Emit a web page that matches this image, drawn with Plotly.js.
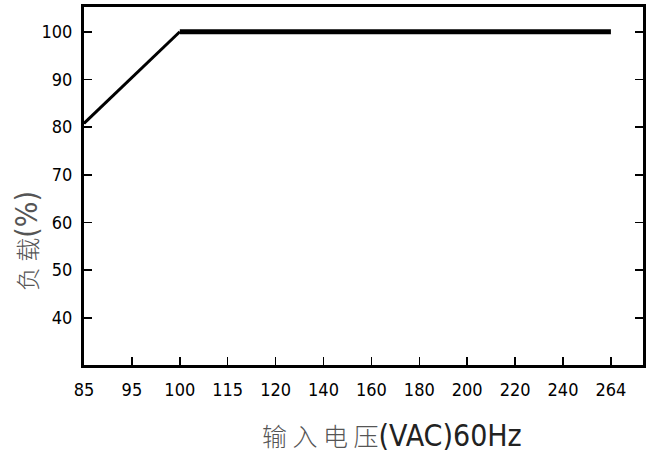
<!DOCTYPE html>
<html>
<head>
<meta charset="utf-8">
<script src="https://cdn.plot.ly/plotly-3.0.1.min.js"></script>
<style>html,body{margin:0;padding:0;background:#fff;}#chart{width:652px;height:465px;}</style>
</head>
<body>
<div id="chart"></div>
<script>
// Tick categories on the (evenly spaced) input-voltage axis
const voltageTicks = ["85", "95", "100", "115", "120", "140", "160", "180", "200", "220", "240", "264"];
// Derating curve: rising section
const riseVoltage = ["85", "100"];
const riseLoad = [80.8, 100];
// Derating curve: flat full-load section
const flatVoltage = ["100", "264"];
const flatLoad = [100, 100];
const loadTicks = [40, 50, 60, 70, 80, 90, 100];

const narrow = '"DejaVu Sans Condensed", "Liberation Sans Narrow", "Liberation Sans", sans-serif';

const traces = [
  {x: riseVoltage, y: riseLoad, type: 'scatter', mode: 'lines',
   line: {color: '#000', width: 3}, hoverinfo: 'skip', showlegend: false},
  {x: flatVoltage, y: flatLoad, type: 'scatter', mode: 'lines',
   line: {color: '#000', width: 5}, hoverinfo: 'skip', showlegend: false}
];

const layout = {
  width: 652, height: 465,
  margin: {l: 84, r: 9, t: 7, b: 100, pad: 0},
  paper_bgcolor: '#fff', plot_bgcolor: '#fff',
  font: {family: narrow, color: '#000', size: 18},
  xaxis: {
    type: 'category', categoryorder: 'array', categoryarray: voltageTicks,
    tickvals: voltageTicks, ticktext: voltageTicks,
    range: [0, 11.67],
    showgrid: false, zeroline: false,
    showline: true, linecolor: '#000', linewidth: 3, mirror: true,
    ticks: 'inside', ticklen: 8, tickwidth: 1.5, tickcolor: '#000',
    tickfont: {family: narrow, size: 18, color: '#000'},
    ticklabelstandoff: 6
  },
  yaxis: {
    range: [30.1, 105.2],
    tickvals: loadTicks,
    showgrid: false, zeroline: false,
    showline: true, linecolor: '#000', linewidth: 3, mirror: 'ticks',
    ticks: 'inside', ticklen: 8, tickwidth: 1.5, tickcolor: '#000',
    tickfont: {family: narrow, size: 18, color: '#000'},
    ticklabelstandoff: 5
  },
  annotations: [
    {xref: 'paper', yref: 'paper', x: 0.551, y: -0.195, xanchor: 'center', yanchor: 'middle',
     showarrow: false,
     text: '<span style="font-family:\'Noto Sans CJK SC\';font-size:25px;font-weight:300;fill:#555">输 入 电 压</span>(VAC)60Hz',
     font: {family: narrow, size: 30, color: '#222'}},
    {xref: 'paper', yref: 'paper', x: -0.104, y: 0.346, xanchor: 'center', yanchor: 'middle',
     showarrow: false, textangle: -90,
     text: '<span style="font-family:\'Noto Sans CJK SC\';font-size:24px;font-weight:300">负 载</span>(%)',
     font: {family: narrow, size: 30, color: '#555'}}
  ]
};

Plotly.newPlot('chart', traces, layout, {staticPlot: true, displayModeBar: false});
</script>
</body>
</html>
